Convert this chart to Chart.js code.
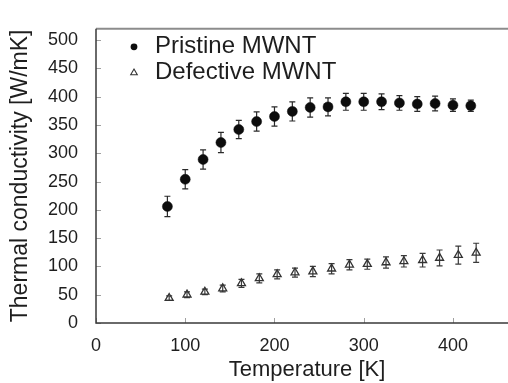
<!DOCTYPE html>
<html>
<head>
<meta charset="utf-8">
<script src="https://cdn.jsdelivr.net/npm/chart.js@4.4.1/dist/chart.umd.min.js"></script>
<style>
  html, body { margin: 0; padding: 0; background: #fff; overflow: hidden; }
  #wrap { width: 524px; height: 383px; }
</style>
</head>
<body>
<div id="wrap"><canvas id="chart" width="524" height="383"></canvas></div>
<script>
// temperatures [K]
const pristineT = [80, 100, 120, 140, 160, 180, 200, 220, 240, 260, 280, 300, 320, 340, 360, 380, 400, 420];
const pristineK = [206, 254, 289, 319, 342, 356, 365, 374, 381, 382, 391, 391, 391, 389, 387, 388, 385, 384];
const pristineErr = [18, 17, 17, 18, 16, 17, 17, 17, 17, 16, 15, 15, 14, 13, 13, 13, 11, 10];

const defectiveT = [82, 102, 122, 142, 163, 183, 203, 223, 243, 264, 284, 304, 325, 345, 366, 385, 406, 426];
const defectiveK = [44, 50, 55, 61, 70, 79, 86, 89, 91, 96, 103, 104, 107, 109, 111, 115, 120, 124];
const defectiveErr = [4, 5, 5, 6, 7, 8, 8, 8, 9, 9, 9, 9, 10, 10, 12, 14, 16, 17];

const xTicks = [0, 100, 200, 300, 400];
const yTicks = [0, 50, 100, 150, 200, 250, 300, 350, 400, 450, 500];

const FONT = 'Liberation Sans, Arial, sans-serif';
const TEXT = '#1e1e1e';

const pts = (xs, ys) => xs.map((x, i) => ({ x, y: ys[i] }));

// error bars, frame and inner tick marks
const decorations = {
  id: 'decorations',
  beforeDatasetsDraw(chart) {
    const { ctx, chartArea: a, scales: { x, y } } = chart;
    ctx.save();
    // inner tick marks
    ctx.strokeStyle = '#a0a0a0';
    ctx.lineWidth = 1;
    ctx.beginPath();
    yTicks.forEach(v => {
      const py = Math.round(y.getPixelForValue(v)) + 0.5;
      ctx.moveTo(a.left, py); ctx.lineTo(a.left + 5, py);
    });
    xTicks.forEach(v => {
      const px = Math.round(x.getPixelForValue(v)) + 0.5;
      ctx.moveTo(px, a.bottom); ctx.lineTo(px, a.bottom - 5);
    });
    ctx.stroke();
    // frame
    ctx.strokeStyle = '#8c8c8c';
    ctx.lineWidth = 2;
    ctx.beginPath();
    ctx.moveTo(a.left, a.top); ctx.lineTo(a.right, a.top);
    ctx.stroke();
    ctx.strokeStyle = '#3a3a3a';
    ctx.lineWidth = 1.5;
    ctx.beginPath();
    ctx.moveTo(a.left, a.top); ctx.lineTo(a.left, a.bottom); ctx.lineTo(a.right, a.bottom);
    ctx.stroke();

    // error bars
    chart.data.datasets.forEach(ds => {
      ctx.strokeStyle = ds.errColor;
      ctx.lineWidth = 1.2;
      ctx.beginPath();
      ds.data.forEach((p, j) => {
        const px = x.getPixelForValue(p.x);
        const top = y.getPixelForValue(p.y + ds.errors[j]);
        const bot = y.getPixelForValue(p.y - ds.errors[j]);
        ctx.moveTo(px, top); ctx.lineTo(px, bot);
        ctx.moveTo(px - 3, top); ctx.lineTo(px + 3, top);
        ctx.moveTo(px - 3, bot); ctx.lineTo(px + 3, bot);
      });
      ctx.stroke();
    });
    ctx.restore();
  },
  afterDraw(chart) {
    // legend inside the plot
    const { ctx, chartArea: a } = chart;
    ctx.save();
    ctx.font = '24px ' + FONT;
    ctx.textBaseline = 'middle';
    ctx.fillStyle = TEXT;
    chart.data.datasets.forEach((ds, i) => {
      const mx = a.left + 38, my = a.top + 18 + i * 26;
      if (ds.pointStyle === 'circle') {
        ctx.beginPath();
        ctx.arc(mx, my, 3.4, 0, Math.PI * 2);
        ctx.fillStyle = ds.pointBackgroundColor;
        ctx.fill();
      } else {
        const r = 3.8;
        ctx.beginPath();
        ctx.moveTo(mx, my - r);
        ctx.lineTo(mx + r * 0.866, my + r / 2);
        ctx.lineTo(mx - r * 0.866, my + r / 2);
        ctx.closePath();
        ctx.strokeStyle = ds.pointBorderColor;
        ctx.lineWidth = 1.1;
        ctx.stroke();
      }
      ctx.fillStyle = TEXT;
      ctx.fillText(ds.label, a.left + 59, my);
    });
    ctx.restore();
  }
};

new Chart(document.getElementById('chart'), {
  type: 'scatter',
  data: {
    datasets: [
      {
        label: 'Pristine MWNT',
        data: pts(pristineT, pristineK),
        errors: pristineErr,
        errColor: '#2a2a2a',
        pointStyle: 'circle',
        pointRadius: 5,
        pointBackgroundColor: '#0d0d0d',
        pointBorderColor: '#0d0d0d',
        pointBorderWidth: 0.5
      },
      {
        label: 'Defective MWNT',
        data: pts(defectiveT, defectiveK),
        errors: defectiveErr,
        errColor: '#3a3a3a',
        pointStyle: 'triangle',
        pointRadius: 4.6,
        pointBackgroundColor: 'rgba(255,255,255,0)',
        pointBorderColor: '#333333',
        pointBorderWidth: 1.3
      }
    ]
  },
  options: {
    responsive: false,
    animation: false,
    devicePixelRatio: 1,
    layout: { padding: { top: 13, right: 2, left: 0, bottom: 0 } },
    plugins: { legend: { display: false }, tooltip: { enabled: false } },
    scales: {
      x: {
        type: 'linear',
        min: 0,
        max: 473,
        afterBuildTicks: s => { s.ticks = xTicks.map(v => ({ value: v })); },
        afterFit: s => { s.height = 60; },
        grid: { display: false, drawTicks: false },
        border: { display: false },
        ticks: { padding: 12, color: TEXT, font: { family: FONT, size: 18 } },
        title: {
          display: true,
          text: 'Temperature [K]',
          color: TEXT,
          font: { family: FONT, size: 22 },
          padding: { top: 0, bottom: 0 }
        }
      },
      y: {
        min: 0,
        max: 520,
        afterBuildTicks: s => { s.ticks = yTicks.map(v => ({ value: v })); },
        afterFit: s => { s.width = 96; },
        grid: { display: false, drawTicks: false },
        border: { display: false },
        ticks: { padding: 18, color: TEXT, font: { family: FONT, size: 18 } },
        title: {
          display: true,
          text: 'Thermal conductivity [W/mK]',
          color: TEXT,
          font: { family: FONT, size: 23 },
          padding: { top: 7, bottom: 0 }
        }
      }
    }
  },
  plugins: [decorations]
});
</script>
</body>
</html>
